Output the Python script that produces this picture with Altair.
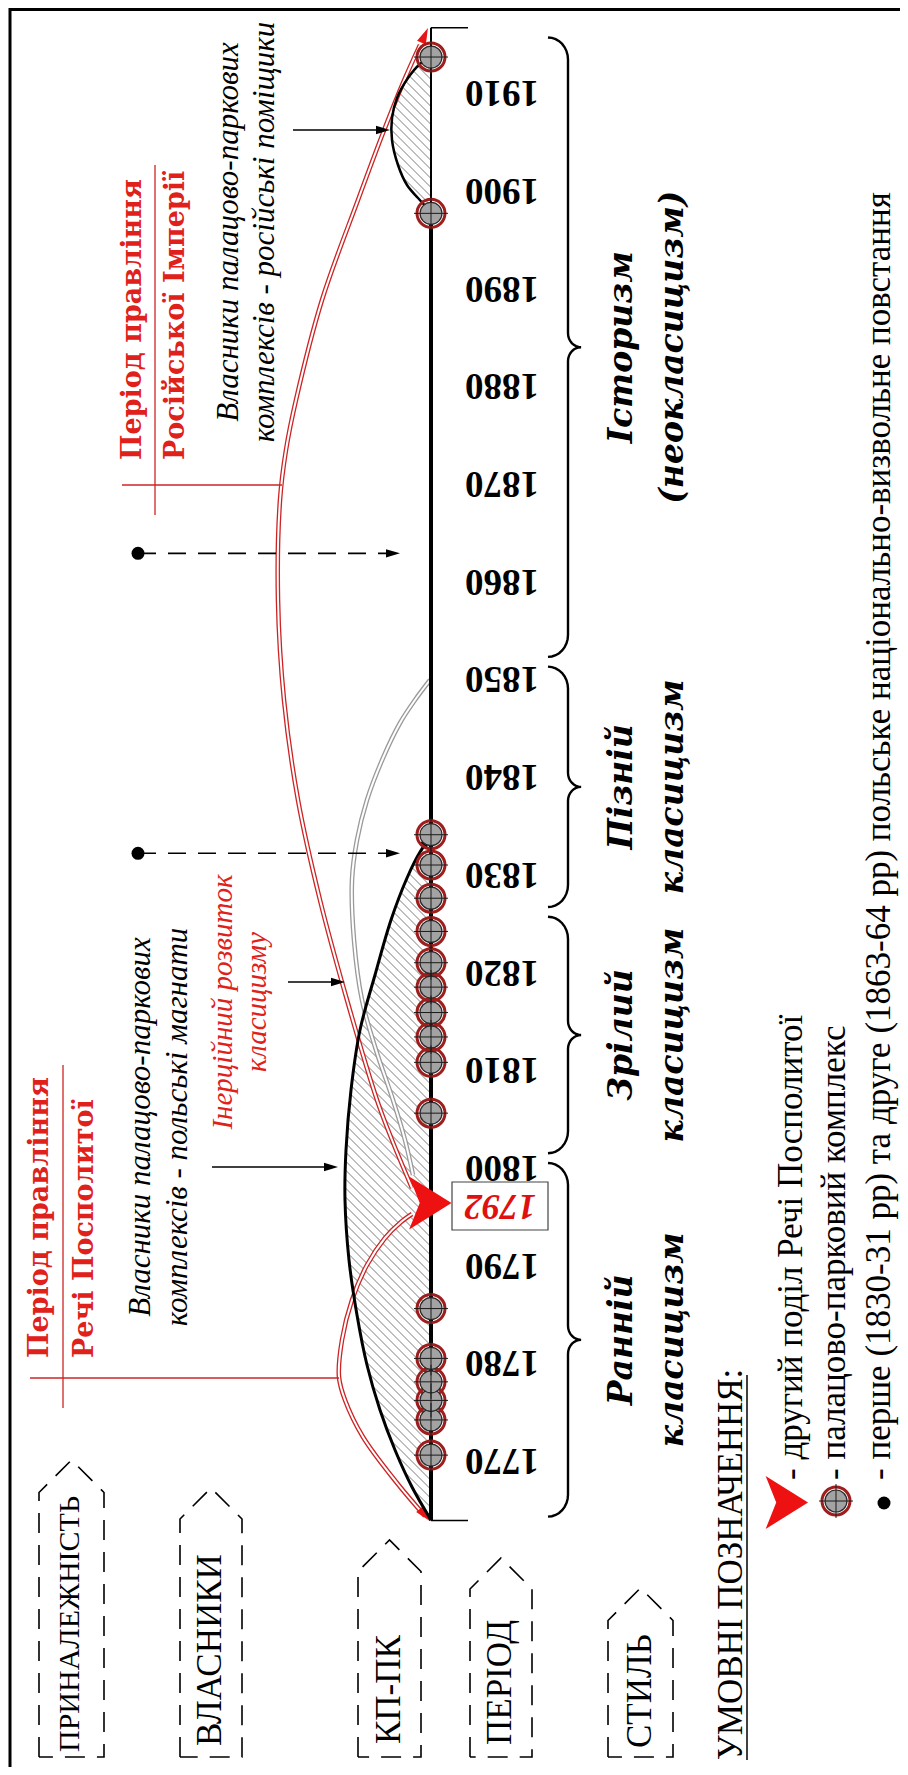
import math
import numpy as np
import pandas as pd
import altair as alt

# ---------------- data ----------------
decade_years = [1770, 1780, 1790, 1800, 1810, 1820, 1830, 1840, 1850,
                1860, 1870, 1880, 1890, 1900, 1910]
complex_years = [1770.5, 1774.1, 1776.1, 1778.0, 1780.4, 1785.5,
                 1805.5, 1810.7, 1813.3, 1815.8, 1818.4, 1820.9, 1824.1,
                 1827.5, 1830.9, 1834.0, 1897.6, 1913.6]
partition_label = "1792"
partition_drawn_year = 1796.3
uprising_years = [1832.1, 1862.8]
timeline_start, timeline_end = 1763.8, 1916.6
timeline_thin_from = 1897.6
style_line1 = ["Ранній", "Зрілий", "Пізній", "Історизм"]
style_line2 = ["класицизм", "класицизм", "класицизм", "(неокласицизм)"]
style_from = [1764.2, 1801.4, 1826.6, 1852.2]
style_to = [1800.4, 1825.6, 1851.2, 1915.6]
row_labels = ["ПРИНАЛЕЖНІСТЬ", "ВЛАСНИКИ", "КП-ПК", "ПЕРІОД", "СТИЛЬ"]
title_pl = ["Період правління", "Речі Посполитої"]
title_ru = ["Період правління", "Російської Імперії"]
owners_pl = ["Власники палацово-паркових", "комплексів - польські магнати"]
owners_ru = ["Власники палацово-паркових", "комплексів - російські поміщики"]
inertia = ["Інерційний розвиток", "класицизму"]
legend_title = "УМОВНІ ПОЗНАЧЕННЯ:"
legend_texts = ["- другий поділ Речі Посполитої",
                "- палацово-парковий комплекс",
                "- перше (1830-31 рр) та друге (1863-64 рр) польське національно-визвольне повстання"]

# ---------------- layout (pixel geometry of the drawing) ----------------
PX_PER_YEAR = 9.77


def yr(p):
    return 1770 + (1460 - p) / PX_PER_YEAR


def px(year):
    return 1460 - (year - 1770) * PX_PER_YEAR


TL_X = 431
lens_pl = [(431, 1520), (412, 1487), (395, 1450), (380, 1410), (367, 1365), (357, 1315),
           (349, 1260), (345, 1200), (346, 1150), (351, 1090), (360, 1030), (375, 975),
           (391, 920), (407, 878), (420, 852), (431, 837)]
lens_ru = [(431, 212), (418, 198), (407, 185), (398, 165), (392, 140), (392, 118),
           (397, 98), (408, 78), (420, 64), (431, 57)]
arc_red_pl = [(425, 1516), (397, 1483), (363, 1437), (345, 1400), (339, 1377), (342, 1340),
              (352, 1300), (367, 1265), (385, 1238), (401, 1222), (412, 1214)]
arc_red_ru = [(412, 1188), (392, 1140), (377, 1100), (347, 1000), (320, 900), (298, 800),
              (284, 700), (278, 600), (280, 500), (286, 450), (296, 400), (322, 300),
              (358, 200), (383, 133), (403, 83), (420, 45)]
arc_grey = [(430, 680), (415, 700), (400, 723), (383, 758), (367, 800), (357, 840),
            (352, 880), (354, 940), (362, 1000), (376, 1050), (393, 1100), (405, 1140),
            (413, 1175)]
brackets = [(39, 104, 1460), (180, 242, 1488), (358, 421, 1540), (470, 532, 1558), (608, 673, 1588)]

RED = "#e0201b"
LINE_RED = "#cc2424"

XS = alt.Scale(domain=[8, 900], nice=False, zero=False)
YS = alt.Scale(domain=[yr(1767), yr(8)], nice=False, zero=False)
XE = alt.X("x:Q", scale=XS, axis=None)
YE = alt.Y("y:Q", scale=YS, axis=None)

layers = []


def seg(rows, color="black", width=1.0, dash=None):
    df = pd.DataFrame(rows, columns=["x", "y", "x2", "y2"])
    kw = dict(color=color, strokeWidth=width, strokeCap="butt")
    if dash:
        kw["strokeDash"] = dash
    return alt.Chart(df).mark_rule(**kw).encode(x=XE, y=YE, x2="x2:Q", y2="y2:Q")


def path(paths, color, width, interp="linear", dash=None):
    rows = []
    for g, pts_ in enumerate(paths):
        for i, (x, p) in enumerate(pts_):
            rows.append({"g": g, "i": i, "x": x, "y": yr(p)})
    kw = dict(color=color, strokeWidth=width, interpolate=interp, strokeCap="butt")
    if dash:
        kw["strokeDash"] = dash
    return alt.Chart(pd.DataFrame(rows)).mark_line(**kw).encode(
        x=XE, y=YE, detail="g:N", order="i:Q")


def pts(rows, shape, size, fill=None, stroke=None, sw=1.0, angle=0):
    df = pd.DataFrame(rows, columns=["x", "y"])
    kw = dict(shape=shape, size=size, angle=angle, opacity=1)
    if fill is not None:
        kw.update(filled=True, fill=fill)
    else:
        kw.update(filled=False, fill="transparent")
    if stroke is not None:
        kw.update(stroke=stroke, strokeWidth=sw)
    else:
        kw.update(strokeWidth=0)
    return alt.Chart(df).mark_point(**kw).encode(x=XE, y=YE)


def txt(rows, size, font="Liberation Serif", color="black", weight="normal",
        style="normal", angle=270, align="center", baseline="middle"):
    df = pd.DataFrame(rows, columns=["x", "y", "t"])
    return alt.Chart(df).mark_text(font=font, fontSize=size, fontWeight=weight,
                                   fontStyle=style, color=color, angle=angle,
                                   align=align, baseline=baseline).encode(
        x=XE, y=YE, text="t:N")


def hatch(curve, step=9.0):
    arr = sorted(curve, key=lambda p: p[1])
    ys = np.array([p[1] for p in arr], float)
    xs = np.array([p[0] for p in arr], float)
    yy = np.linspace(ys[0], ys[-1], 3000)
    xa = np.interp(yy, ys, xs)
    out = []
    c = ys[0] - TL_X + step / 2
    while TL_X + c < ys[-1]:
        y_end = TL_X + c
        ok = np.nonzero(yy - c - xa >= 0)[0]
        if len(ok):
            y0 = yy[ok[0]]
            if y0 < y_end - 1:
                out.append((y0 - c, yr(y0), TL_X, yr(y_end)))
        c += step
    return out


def brace(top, bot, x_tip=548, x_spine=568, x_cusp=581, r=22, rc=14, n=8):
    mid = (top + bot) / 2
    p = []
    for k in range(n + 1):
        t = k / n * math.pi / 2
        p.append((x_tip + (x_spine - x_tip) * math.sin(t), top + r - r * math.cos(t)))
    for k in range(n + 1):
        t = k / n * math.pi / 2
        p.append((x_cusp - (x_cusp - x_spine) * math.cos(t), mid - rc + rc * math.sin(t)))
    for k in range(n, -1, -1):
        t = k / n * math.pi / 2
        p.append((x_cusp - (x_cusp - x_spine) * math.cos(t), mid + rc - rc * math.sin(t)))
    for k in range(n, -1, -1):
        t = k / n * math.pi / 2
        p.append((x_tip + (x_spine - x_tip) * math.sin(t), bot - r + r * math.cos(t)))
    return p


TRI = "M-0.75,-1L0.85,0L-0.75,1L-0.35,0Z"
HEAD_UP = "M0,-1L0.6,1L-0.6,1Z"
HEAD_RIGHT = "M-1,-0.6L1,0L-1,0.6Z"
CROSS = "M-1,0L1,0M0,-1L0,1"

# frame
layers.append(seg([(10, yr(8), 10, yr(1775)), (10, yr(9.5), 908, yr(9.5))], width=3))

# hatching of the two owner periods
layers.append(seg(hatch(lens_pl) + hatch(lens_ru), color="#6e6e6e", width=0.9))

# double arcs
layers.append(path([arc_grey], "#9a9a9a", 4.6, "catmull-rom"))
layers.append(path([arc_grey], "white", 2.0, "catmull-rom"))
layers.append(path([arc_red_pl, arc_red_ru], LINE_RED, 4.6, "catmull-rom"))
layers.append(path([arc_red_pl, arc_red_ru], "white", 2.0, "catmull-rom"))
layers.append(pts([(425, yr(1515))], HEAD_UP, 256, fill="#e81515", angle=140))
layers.append(pts([(424.7, yr(35.3))], HEAD_UP, 256, fill="#e81515", angle=24))

# owner lenses
layers.append(path([lens_pl], "black", 3.0, "catmull-rom"))
layers.append(path([lens_ru], "black", 2.5, "catmull-rom"))
layers.append(pts([(427.5, yr(840))], HEAD_UP, 196, fill="black", angle=38))

# timeline
layers.append(seg([(TL_X, timeline_start, TL_X, timeline_thin_from)], width=4))
layers.append(seg([(TL_X, timeline_thin_from, TL_X, timeline_end)], width=2))
layers.append(seg([(TL_X, timeline_start, 468, timeline_start),
                   (TL_X, timeline_end, 468, timeline_end)], width=1.5))

# palace-park complexes (+ legend symbol)
circ_rows = [(TL_X, y) for y in complex_years] + [(836, yr(1501))]
layers.append(pts(circ_rows, "circle", 28 ** 2, stroke="#9e1e1e", sw=3.0))
layers.append(pts(circ_rows, "circle", 22 ** 2, fill="#a3a3a3", stroke="#2a2a2a", sw=1.2))
layers.append(pts(circ_rows, CROSS, 34 ** 2, stroke="#1a1a1a", sw=1.0))

# second partition
layers.append(pts([(429, partition_drawn_year), (785.5, yr(1502.5))],
                  TRI, 53 ** 2, fill="#ee1111"))
box = pd.DataFrame([{"x": 452, "x2": 548, "y": yr(1182), "y2": yr(1230)}])
layers.append(alt.Chart(box).mark_rect(fill="white", stroke="#444", strokeWidth=1.2).encode(
    x=XE, y=YE, x2="x2:Q", y2="y2:Q"))
layers.append(txt([(500, yr(1206), partition_label)], 36, color="#e01010",
                  weight="bold", style="italic", angle=180))

# year labels
layers.append(txt([(502, y, str(y)) for y in decade_years], 37, weight="bold", angle=180))

# style braces and names
layers.append(path([brace(px(t), px(f)) for f, t in zip(style_from, style_to)], "black", 2.4))
style_rows = []
for a, b, f, t in zip(style_line1, style_line2, style_from, style_to):
    m = (f + t) / 2
    style_rows += [(622, m, a), (673, m, b)]
layers.append(txt(style_rows, 33, font="DejaVu Serif", weight="bold", style="italic"))

# row labels in dashed frames
frame_paths = []
for xl, xr, apex in brackets:
    sh = apex + (xr - xl) / 2
    frame_paths.append([(xl, 1757), (xl, sh), ((xl + xr) / 2, apex), (xr, sh), (xr, 1757), (xl, 1757)])
layers.append(path(frame_paths, "black", 1.6, dash=[20, 12]))
layers.append(txt([(70, yr(1752), row_labels[0])], 30, align="left"))
layers.append(txt([(210, yr(1746), row_labels[1]), (389, yr(1744), row_labels[2]),
                   (500, yr(1745), row_labels[3]), (640, yr(1748), row_labels[4])],
                  35, align="left"))

# period titles
layers.append(txt([(40, yr(1358), title_pl[0]), (85, yr(1358), title_pl[1]),
                   (133, yr(460), title_ru[0]), (176, yr(460), title_ru[1])],
                  27, font="DejaVu Serif", color=RED, weight="bold", align="left"))
layers.append(seg([(63, yr(1065), 63, yr(1408)), (30, yr(1378), 339, yr(1378)),
                   (155, yr(165), 155, yr(515)), (122, yr(485), 282, yr(485))],
                  color=LINE_RED, width=1.3))

# owners / inertia texts
layers.append(txt([(141, yr(1127), owners_pl[0]), (178, yr(1127), owners_pl[1]),
                   (229, yr(232), owners_ru[0]), (265, yr(232), owners_ru[1])],
                  31, style="italic"))
layers.append(txt([(223, yr(1002), inertia[0]), (257, yr(1002), inertia[1])],
                  29, color=RED, style="italic"))

# pointer arrows
layers.append(seg([(212, yr(1167), 331, yr(1167)), (293, yr(130), 383, yr(130)),
                   (288, yr(982), 338, yr(982))], width=1.6))
layers.append(pts([(331, yr(1167)), (383, yr(130)), (338, yr(982))], HEAD_RIGHT, 196, fill="black"))

# uprisings (dashed arrows) + legend dot
layers.append(seg([(138, y, 393, y) for y in uprising_years], width=1.6, dash=[18, 12]))
layers.append(pts([(393, y) for y in uprising_years], HEAD_RIGHT, 196, fill="black"))
layers.append(pts([(138, y) for y in uprising_years] + [(884, yr(1503))], "circle", 13 ** 2, fill="black"))

# legend
layers.append(txt([(731, yr(1760), legend_title)], 35, align="left"))
layers.append(seg([(747, yr(1760), 747, yr(1375))], width=1.5))
layers.append(txt([(791, yr(1480), legend_texts[0]), (834, yr(1480), legend_texts[1]),
                   (879, yr(1480), legend_texts[2])], 35, align="left"))

chart = alt.layer(*layers).properties(
    width=892, height=1759, padding=0, autosize=alt.AutoSizeParams(type="none"),
    background="white"
).configure_view(stroke=None)

chart.save("out.html", embed_options={"renderer": "svg", "actions": False})
